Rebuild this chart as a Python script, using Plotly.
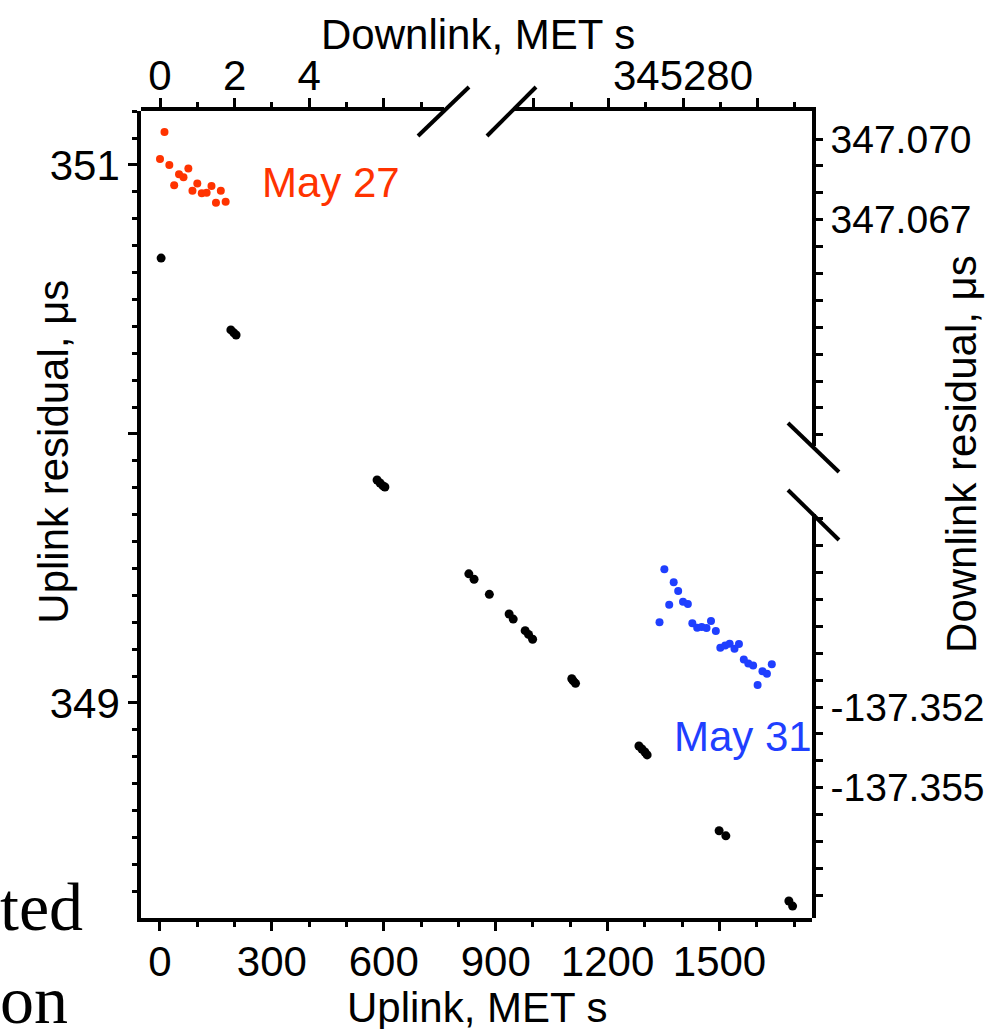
import numpy as np
import plotly.graph_objects as go

# ---------------- data ----------------
# Uplink (black): bottom axis MET s, left axis residual us
up_t = [3, 190, 198, 204, 582, 590, 598, 603, 828, 842, 883, 936, 947, 979, 988, 999,
        1104, 1108, 1114, 1284, 1292, 1300, 1306, 1499, 1517, 1686, 1696]
up_res = [350.654, 350.387, 350.376, 350.368, 349.829, 349.818, 349.807, 349.803,
          349.480, 349.460, 349.404, 349.331, 349.312, 349.269, 349.255, 349.237,
          349.090, 349.082, 349.073, 348.840, 348.829, 348.818, 348.807,
          348.525, 348.506, 348.264, 348.245]

# Downlink May 27 (red): top-left axis MET s, upper right axis residual us
may27_t = [0.0, 0.12, 0.25, 0.38, 0.51, 0.63, 0.76, 0.87, 1.0, 1.12, 1.25, 1.38, 1.5, 1.63, 1.76]
may27_res = [347.06926, 347.07026, 347.06903, 347.06828, 347.06869, 347.06858, 347.06890,
             347.06808, 347.06835, 347.06798, 347.06800, 347.06825, 347.06763, 347.06808,
             347.06767]

# Downlink May 31 (blue): top-right axis MET s, lower right axis residual us
may31_t = [345279.37, 345279.50, 345279.63, 345279.75, 345279.87, 345280.00, 345280.13,
           345280.25, 345280.38, 345280.50, 345280.63, 345280.75, 345280.88, 345281.00,
           345281.13, 345281.25, 345281.38, 345281.50, 345281.63, 345281.75, 345281.88,
           345282.00, 345282.13, 345282.25, 345282.38]
may31_res = [-137.34885, -137.34688, -137.34820, -137.34736, -137.34769, -137.34809,
             -137.34817, -137.34889, -137.34905, -137.34903, -137.34906, -137.34880,
             -137.34917, -137.34980, -137.34971, -137.34965, -137.34983, -137.34966,
             -137.35023, -137.35038, -137.35046, -137.35118, -137.35067, -137.35076,
             -137.35041]

# tick labels
bottom_ticks = [0, 300, 600, 900, 1200, 1500]
left_ticks = [349, 350, 351]
left_text = ["349", "", "351"]
topL_ticks = [0, 2, 4, 6]
topL_text = ["0", "2", "4", ""]
topR_ticks = [345276, 345278, 345280, 345282]
topR_text = ["", "", "345280", ""]
rightU_labels = {347.070: "347.070", 347.067: "347.067"}
rightL_labels = {-137.352: "-137.352", -137.355: "-137.355"}

RED = "#ff3300"
BLUE = "#1f3fff"
FONT = "Liberation Sans, Arial, Helvetica, sans-serif"
TICKF = dict(family=FONT, size=42, color="black")
RTICKF = dict(family=FONT, size=39, color="black")
LW = 3.5

fig = go.Figure()
fig.add_trace(go.Scatter(x=up_t, y=up_res, mode="markers", xaxis="x", yaxis="y",
                         marker=dict(color="black", size=9), cliponaxis=False))
fig.add_trace(go.Scatter(x=may27_t, y=may27_res, mode="markers", xaxis="x2", yaxis="y2",
                         marker=dict(color=RED, size=8), cliponaxis=False))
fig.add_trace(go.Scatter(x=may31_t, y=may31_res, mode="markers", xaxis="x3", yaxis="y3",
                         marker=dict(color=BLUE, size=8), cliponaxis=False))

common = dict(showgrid=False, zeroline=False, showline=True, linecolor="black",
              linewidth=LW, ticks="outside", ticklen=9, tickwidth=2.5, tickcolor="black",
              tickfont=TICKF, automargin=False)
minor_style = dict(ticklen=5, tickwidth=2.5, tickcolor="black", ticks="outside", showgrid=False)

rU = np.round(np.arange(347.059, 347.0705, 0.001), 3)
rL = np.round(np.arange(-137.359, -137.3445, 0.001), 3)

fig.update_layout(
    width=993, height=1029, autosize=False,
    margin=dict(l=141, r=181, t=111, b=111, pad=0, autoexpand=False),
    paper_bgcolor="white", plot_bgcolor="rgba(0,0,0,0)",
    showlegend=False,
    xaxis=dict(common, domain=[0, 1], range=[-50.9, 1748], anchor="y",
               tickmode="array", tickvals=bottom_ticks, ticklabelstandoff=-5,
               minor=dict(minor_style, dtick=100, tick0=0)),
    yaxis=dict(common, domain=[0, 1], range=[348.2007, 351.2007], anchor="x",
               tickmode="array", tickvals=left_ticks, ticktext=left_text,
               minor=dict(minor_style, dtick=0.1, tick0=349)),
    xaxis2=dict(common, domain=[0, 0.4516], range=[-0.5094, 7.614], anchor="y", side="top",
                tickmode="array", tickvals=topL_ticks, ticktext=topL_text, ticklabelstandoff=-9,
                minor=dict(minor_style, dtick=1, tick0=0)),
    xaxis3=dict(common, domain=[0.5544, 1], range=[345275.442, 345283.458], anchor="y", side="top",
                tickmode="array", tickvals=topR_ticks, ticktext=topR_text, ticklabelstandoff=-9,
                minor=dict(minor_style, dtick=1, tick0=345280)),
    yaxis2=dict(common, domain=[0.5849, 1], range=[347.058587, 347.071041], anchor="x", side="right",
                tickmode="array", tickvals=list(rU), tickfont=RTICKF,
                ticktext=[rightU_labels.get(float(v), "") for v in rU], ticklen=7),
    yaxis3=dict(common, domain=[0, 0.5012], range=[-137.359844, -137.344807], anchor="x", side="right",
                tickmode="array", tickvals=list(rL), tickfont=RTICKF,
                ticktext=[rightL_labels.get(float(v), "") for v in rL], ticklen=7),
)

def ann(text, x, y, size=42, color="black", xanchor="center", angle=0, family=FONT):
    fig.add_annotation(text=text, x=x, y=y, xref="paper", yref="paper", showarrow=False,
                       xanchor=xanchor, yanchor="middle", textangle=angle,
                       font=dict(family=family, size=size, color=color))

ann("Downlink, MET s", 0.502, 1.0954)
ann("Uplink, MET s", 0.502, -0.1103)
ann("Uplink residual, \u03bcs", -0.131, 0.578, angle=-90)
ann("Downlink residual, \u03bcs", 1.2235, 0.575, angle=-90)
ann("May 27", 0.1773, 0.912, color=RED, xanchor="left")
ann("May 31", 0.7914, 0.2243, color=BLUE, xanchor="left")
ann("ted", -0.2131, 0.0136, size=68, xanchor="left", family="Liberation Serif, Times New Roman, serif")
ann("on", -0.2131, -0.102, size=68, xanchor="left", family="Liberation Serif, Times New Roman, serif")

# axis break marks
for (x0, y0, x1, y1) in [(0.4128, 0.969, 0.4888, 1.0297), (0.5156, 0.969, 0.5887, 1.0297),
                         (0.9642, 0.6134, 1.0402, 0.5527), (0.9642, 0.5304, 1.0402, 0.4684)]:
    fig.add_shape(type="line", xref="paper", yref="paper", x0=x0, y0=y0, x1=x1, y1=y1,
                  line=dict(color="black", width=4))

fig.write_html("out.html")
